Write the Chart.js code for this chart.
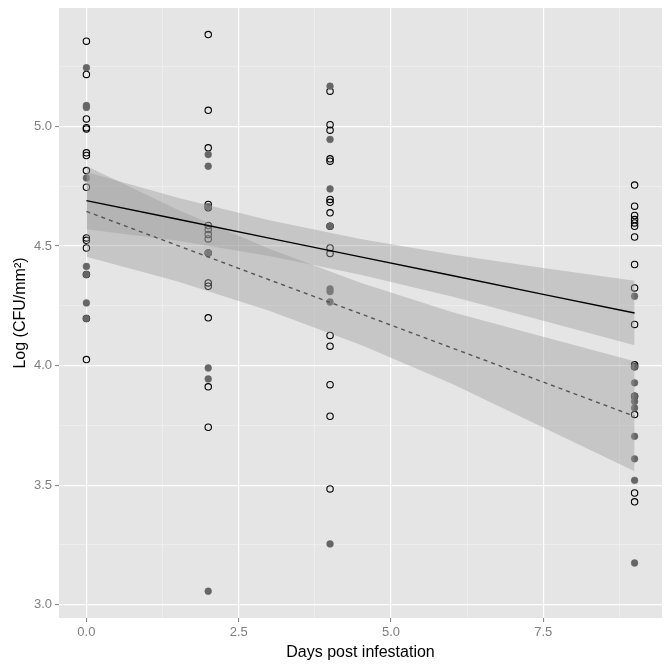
<!DOCTYPE html>
<html>
<head>
<meta charset="utf-8">
<script src="https://cdn.jsdelivr.net/npm/chart.js@4/dist/chart.umd.min.js"></script>
<style>
  html, body { margin: 0; padding: 0; background: #ffffff; }
  #wrap { width: 670px; height: 668px; }
</style>
</head>
<body>
<div id="wrap"><canvas id="c" width="670" height="668"></canvas></div>
<script>
// ---- data ----
const days = [0, 2, 4, 9];
const openValues = [
  [5.357, 5.218, 5.032, 4.995, 4.990, 4.890, 4.879, 4.816, 4.746, 4.534, 4.524, 4.492, 4.381, 4.197, 4.025],
  [5.385, 5.068, 4.911, 4.674, 4.660, 4.586, 4.569, 4.548, 4.530, 4.471, 4.346, 4.332, 4.200, 3.911, 3.742],
  [5.148, 5.008, 4.985, 4.865, 4.855, 4.695, 4.683, 4.639, 4.583, 4.492, 4.469, 4.126, 4.081, 3.920, 3.788, 3.484],
  [4.755, 4.667, 4.628, 4.611, 4.597, 4.583, 4.538, 4.423, 4.325, 4.172, 4.003, 3.995, 3.872, 3.795, 3.467, 3.430]
];
const filledValues = [
  [5.246, 5.088, 5.080, 4.785, 4.415, 4.381, 4.262, 4.197],
  [4.883, 4.834, 4.665, 4.471, 3.990, 3.944, 3.056],
  [5.169, 4.946, 4.739, 4.583, 4.321, 4.310, 4.266, 3.254],
  [4.290, 3.995, 3.928, 3.872, 3.850, 3.823, 3.704, 3.610, 3.520, 3.174]
];
// fitted lines and confidence bands (read at these x positions)
const fitX = [0, 1.5, 3, 4.5, 6, 7.5, 9];
const solidFit   = [4.690, 4.612, 4.533, 4.455, 4.377, 4.298, 4.220];
const solidUpper = [4.810, 4.702, 4.608, 4.530, 4.465, 4.408, 4.355];
const solidLower = [4.570, 4.522, 4.458, 4.380, 4.289, 4.188, 4.085];
const dashFit    = [4.645, 4.502, 4.359, 4.217, 4.074, 3.931, 3.788];
const dashUpper  = [4.835, 4.652, 4.489, 4.347, 4.224, 4.121, 4.018];
const dashLower  = [4.455, 4.352, 4.229, 4.087, 3.924, 3.741, 3.558];
// axis ticks
const xMajor = [0, 2.5, 5, 7.5];
const xMinor = [1.25, 3.75, 6.25, 8.75];
const yMajor = [3.0, 3.5, 4.0, 4.5, 5.0];
const yMinor = [3.25, 3.75, 4.25, 4.75, 5.25];

// ---- build datasets ----
function pts(groups) {
  const out = [];
  groups.forEach((vals, i) => vals.forEach(v => out.push({ x: days[i], y: v })));
  return out;
}
function curve(ys) { return fitX.map((x, i) => ({ x: x, y: ys[i] })); }

const bandFill = 'rgba(153,153,153,0.4)';
const datasets = [
  { label: 'open', data: pts(openValues), pointStyle: 'circle', pointRadius: 3.2,
    pointBackgroundColor: 'rgba(0,0,0,0)', pointBorderColor: '#000000', pointBorderWidth: 1.1, order: 5 },
  { label: 'filled', data: pts(filledValues), pointStyle: 'circle', pointRadius: 3.4,
    pointBackgroundColor: '#666666', pointBorderColor: '#666666', pointBorderWidth: 0.5, order: 4 },
  { type: 'line', label: 'solidUpper', data: curve(solidUpper), fill: '+1', backgroundColor: bandFill,
    borderWidth: 0, pointRadius: 0, order: 3 },
  { type: 'line', label: 'solidLower', data: curve(solidLower), fill: false,
    borderWidth: 0, pointRadius: 0, order: 3 },
  { type: 'line', label: 'dashUpper', data: curve(dashUpper), fill: '+1', backgroundColor: bandFill,
    borderWidth: 0, pointRadius: 0, order: 2 },
  { type: 'line', label: 'dashLower', data: curve(dashLower), fill: false,
    borderWidth: 0, pointRadius: 0, order: 2 },
  { type: 'line', label: 'solid', data: curve(solidFit), fill: false, borderColor: '#000000',
    borderWidth: 1.4, pointRadius: 0, order: 1 },
  { type: 'line', label: 'dashed', data: curve(dashFit), fill: false, borderColor: '#555555',
    borderWidth: 1.4, borderDash: [4, 4], pointRadius: 0, order: 1 }
];

const panelBg = {
  id: 'panelBg',
  beforeDraw(chart) {
    const { ctx, chartArea: a } = chart;
    ctx.save();
    ctx.fillStyle = '#e5e5e5';
    ctx.fillRect(a.left, a.top, a.right - a.left, a.bottom - a.top);
    ctx.restore();
  }
};

function isMajor(list, v) { return list.some(m => Math.abs(m - v) < 1e-6); }

new Chart(document.getElementById('c'), {
  type: 'scatter',
  data: { datasets },
  plugins: [panelBg],
  options: {
    responsive: false,
    animation: false,
    layout: { padding: { top: 8, right: 8, left: 0, bottom: 0 } },
    plugins: { legend: { display: false }, tooltip: { enabled: false } },
    elements: { line: { tension: 0 } },
    scales: {
      x: {
        type: 'linear', min: -0.45, max: 9.45,
        afterBuildTicks(s) { s.ticks = xMajor.concat(xMinor).sort((a, b) => a - b).map(v => ({ value: v })); },
        afterFit(s) { s.height = 50; s.paddingLeft = 0; s.paddingRight = 0; },
        border: { display: false },
        grid: {
          color: c => isMajor(xMajor, c.tick.value) ? '#ffffff' : '#f2f2f2',
          lineWidth: c => isMajor(xMajor, c.tick.value) ? 1.2 : 0.6,
          tickColor: c => isMajor(xMajor, c.tick.value) ? '#7f7f7f' : 'rgba(0,0,0,0)',
          tickLength: 4, tickWidth: 1
        },
        ticks: {
          autoSkip: false, maxRotation: 0, padding: 3, color: '#7f7f7f',
          font: { family: 'Liberation Sans', size: 13 },
          callback: v => isMajor(xMajor, v) ? v.toFixed(1) : ''
        },
        title: { display: true, text: 'Days post infestation', color: '#000000',
          font: { family: 'Liberation Sans', size: 16 }, padding: { top: 0, bottom: 6 } }
      },
      y: {
        type: 'linear', min: 2.944, max: 5.496,
        afterBuildTicks(s) { s.ticks = yMajor.concat(yMinor).sort((a, b) => a - b).map(v => ({ value: v })); },
        afterFit(s) { s.width = 59; s.paddingTop = 0; s.paddingBottom = 0; },
        border: { display: false },
        grid: {
          color: c => isMajor(yMajor, c.tick.value) ? '#ffffff' : '#f2f2f2',
          lineWidth: c => isMajor(yMajor, c.tick.value) ? 1.2 : 0.6,
          tickColor: c => isMajor(yMajor, c.tick.value) ? '#7f7f7f' : 'rgba(0,0,0,0)',
          tickLength: 4, tickWidth: 1
        },
        ticks: {
          autoSkip: false, padding: 3, color: '#7f7f7f',
          font: { family: 'Liberation Sans', size: 13 },
          callback: v => isMajor(yMajor, v) ? v.toFixed(1) : ''
        },
        title: { display: true, text: 'Log (CFU/mm²)', color: '#000000',
          font: { family: 'Liberation Sans', size: 16 }, padding: { top: 11, bottom: 0 } }
      }
    }
  }
});
</script>
</body>
</html>
